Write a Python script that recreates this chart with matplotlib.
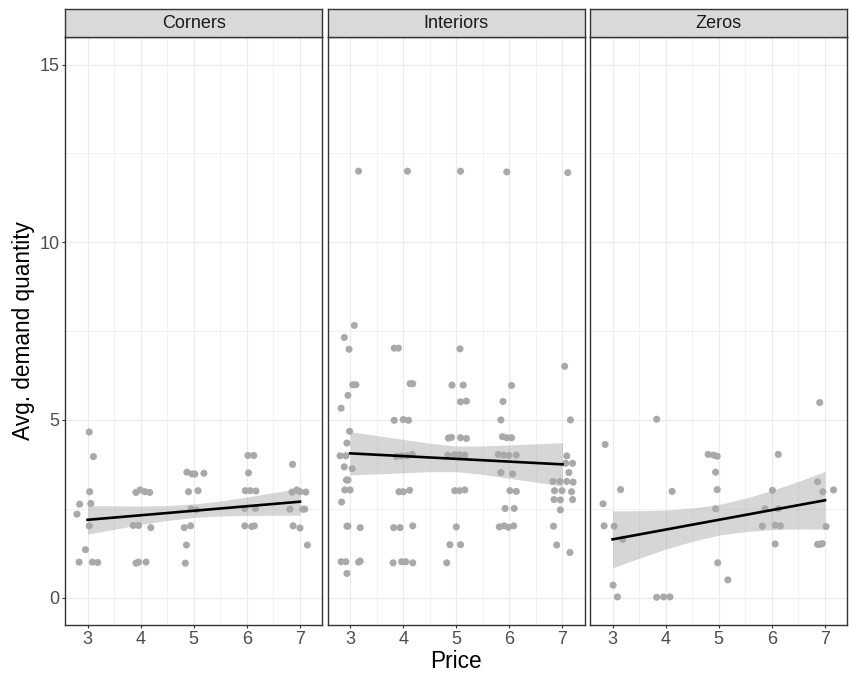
import matplotlib
matplotlib.use("Agg")
import matplotlib.pyplot as plt
import numpy as np

plt.rcParams["font.family"] = ["Liberation Sans", "DejaVu Sans"]

# ─────────────────────────────────────────
# DATA (jittered points)
# ─────────────────────────────────────────
facets = ["Corners", "Interiors", "Zeros"]

corners_price = [3.03, 3.11, 3.04, 2.85, 3.06, 2.80, 3.03, 2.96, 2.84, 3.09, 3.19,
                 3.91, 3.99, 4.08, 4.17, 3.86, 3.96, 4.19, 3.91, 3.96, 4.10,
                 4.87, 4.97, 5.02, 5.19, 4.90, 5.08, 4.95, 5.05, 4.82, 4.94, 4.86, 4.84,
                 6.02, 6.13, 6.03, 5.97, 6.06, 6.17, 5.96, 6.16, 5.96, 6.09, 6.14,
                 6.86, 6.85, 6.94, 7.00, 7.11, 6.81, 7.05, 7.09, 6.87, 7.00, 7.14]
corners_qty = [4.66, 3.97, 2.98, 2.63, 2.65, 2.35, 2.02, 1.35, 1.00, 1.00, 0.99,
               2.96, 3.03, 2.98, 2.96, 2.03, 2.03, 1.97, 0.97, 1.00, 1.00,
               3.53, 3.48, 3.48, 3.50, 2.98, 3.01, 2.50, 2.47, 1.97, 2.02, 1.48, 0.97,
               4.00, 4.00, 3.51, 3.01, 3.01, 3.00, 2.51, 2.51, 2.02, 2.00, 2.02,
               3.75, 2.97, 3.03, 2.98, 2.97, 2.49, 2.49, 2.49, 2.02, 1.96, 1.48]

interiors_price = [3.16, 3.08, 2.89, 2.98, 3.05, 3.11, 2.96, 2.83, 2.99, 2.94, 2.81, 2.92,
                   2.89, 3.04, 2.93, 2.96, 2.90, 3.00, 2.84, 2.94, 2.96, 3.19, 2.83, 2.92,
                   3.16, 3.19, 2.94,
                   4.08, 3.83, 3.91, 4.13, 4.18, 3.83, 4.00, 4.10, 3.87, 3.97, 4.07, 4.17,
                   3.92, 4.00, 4.12, 3.82, 3.94, 4.18, 3.81, 3.97, 4.05, 4.18,
                   5.08, 5.07, 4.92, 5.13, 5.08, 5.19, 4.85, 4.91, 5.08, 5.19, 4.84, 4.97,
                   5.06, 5.16, 4.97, 5.06, 5.16, 5.00, 4.88, 5.08, 4.82,
                   5.95, 6.04, 5.88, 5.84, 5.87, 5.95, 6.04, 5.79, 5.89, 5.99, 6.13, 5.84,
                   6.06, 6.01, 6.13, 5.92, 6.09, 5.81, 5.90, 5.98, 6.08,
                   7.10, 7.04, 7.15, 7.08, 7.06, 7.19, 7.12, 6.82, 6.95, 7.08, 7.20, 6.85,
                   6.99, 7.17, 6.84, 6.96, 7.19, 6.96, 6.83, 6.89, 7.14]
interiors_qty = [12.00, 7.66, 7.32, 6.99, 5.99, 5.99, 5.69, 5.33, 4.68, 4.35, 3.99, 3.99,
                 3.68, 3.63, 3.31, 3.31, 3.03, 3.03, 2.69, 2.01, 2.01, 1.97, 1.01, 1.01,
                 1.00, 1.03, 0.68,
                 12.00, 7.02, 7.02, 6.02, 6.02, 4.99, 5.01, 4.99, 3.97, 3.99, 3.99, 4.03,
                 2.98, 2.98, 3.02, 1.97, 1.97, 2.02, 0.98, 1.01, 1.01, 0.98,
                 12.00, 7.00, 5.98, 5.98, 5.51, 5.53, 4.49, 4.51, 4.50, 4.48, 4.01, 4.02,
                 4.02, 4.01, 3.01, 3.01, 3.03, 1.99, 1.49, 1.49, 0.98,
                 11.98, 5.97, 5.52, 5.00, 4.53, 4.50, 4.50, 4.03, 4.01, 4.00, 4.01, 3.52,
                 3.48, 3.01, 2.99, 2.51, 2.51, 1.99, 2.02, 1.98, 2.02,
                 11.96, 6.51, 5.00, 3.99, 3.78, 3.78, 3.52, 3.27, 3.27, 3.27, 3.25, 3.01,
                 3.01, 2.98, 2.76, 2.75, 2.76, 2.47, 2.01, 1.48, 1.27]

zeros_price = [2.86, 2.82, 2.84, 3.03, 3.15, 3.19, 3.01, 3.09,
               3.83, 4.12, 3.83, 3.96, 4.08,
               4.80, 4.90, 4.97, 4.94, 4.97, 4.94, 4.98, 5.17,
               6.12, 6.01, 5.87, 6.12, 5.82, 6.06, 6.16, 6.06,
               6.90, 6.86, 6.96, 7.16, 7.02, 6.86, 6.91, 6.95]
zeros_qty = [4.31, 2.64, 2.02, 2.01, 3.04, 1.64, 0.35, 0.02,
             5.02, 2.99, 0.01, 0.02, 0.02,
             4.03, 4.01, 3.98, 3.53, 3.04, 2.50, 0.98, 0.50,
             4.03, 3.02, 2.50, 2.50, 2.01, 2.04, 2.02, 1.51,
             5.49, 3.26, 2.98, 3.03, 2.00, 1.50, 1.50, 1.52]

prices = [corners_price, interiors_price, zeros_price]
quantities = [corners_qty, interiors_qty, zeros_qty]

# linear fit: value at price 3 and price 7
fit_price = [3, 7]
fit_corners = [2.19, 2.70]
fit_interiors = [4.06, 3.75]
fit_zeros = [1.64, 2.74]
fits = [fit_corners, fit_interiors, fit_zeros]

# half-width of the 95% band along the price axis
band_price = [3, 3.5, 4, 4.5, 5, 5.5, 6, 6.5, 7]
band_corners = [0.40, 0.33, 0.26, 0.21, 0.19, 0.21, 0.26, 0.32, 0.38]
band_interiors = [0.61, 0.54, 0.47, 0.40, 0.36, 0.40, 0.47, 0.54, 0.61]
band_zeros = [0.80, 0.67, 0.55, 0.47, 0.43, 0.47, 0.55, 0.67, 0.81]
bands = [band_corners, band_interiors, band_zeros]

x_ticks = [3, 4, 5, 6, 7]
y_ticks = [0, 5, 10, 15]

# ─────────────────────────────────────────
# FIGURE
# ─────────────────────────────────────────
W, H = 849, 677
fig = plt.figure(figsize=(W / 100, H / 100), dpi=100)

panel_left = [65.3, 327.8, 590.3]
panel_w = 257.0
panel_top, panel_bottom = 36.5, 625.0
strip_top = 8.7

border = "#333333"
grid_col = "#EBEBEB"

for i, name in enumerate(facets):
    l = panel_left[i] / W
    ax = fig.add_axes([l, 1 - panel_bottom / H, panel_w / W,
                       (panel_bottom - panel_top) / H])
    ax.set_xlim(2.58, 7.42)
    ax.set_ylim(-0.77, 15.79)

    ax.set_xticks(x_ticks)
    ax.set_xticks([3.5, 4.5, 5.5, 6.5], minor=True)
    ax.set_yticks(y_ticks)
    ax.set_yticks([2.5, 7.5, 12.5], minor=True)
    ax.grid(True, which="major", color=grid_col, lw=0.8)
    ax.grid(True, which="minor", color=grid_col, lw=0.45)
    ax.set_axisbelow(True)
    ax.tick_params(which="minor", length=0)
    ax.tick_params(which="major", length=2.3, width=0.8, color=border,
                   labelcolor="#4D4D4D", labelsize=13, pad=2)
    if i > 0:
        ax.tick_params(axis="y", which="major", left=False, labelleft=False)
    for sp in ax.spines.values():
        sp.set_color(border)
        sp.set_linewidth(1.0)

    # fitted line and its band
    line_at_band = np.interp(band_price, fit_price, fits[i])
    hw = np.asarray(bands[i])
    ax.fill_between(band_price, line_at_band - hw, line_at_band + hw,
                    color="#999999", alpha=0.4, lw=0, zorder=2)
    ax.scatter(prices[i], quantities[i], s=26, color="#A9A9A9",
               edgecolors="none", zorder=3)
    ax.plot(fit_price, fits[i], color="black", lw=1.9, zorder=4)

    # strip
    sax = fig.add_axes([l, 1 - panel_top / H, panel_w / W,
                        (panel_top - strip_top) / H])
    sax.set_facecolor("#D9D9D9")
    sax.set_xticks([])
    sax.set_yticks([])
    for sp in sax.spines.values():
        sp.set_color(border)
        sp.set_linewidth(1.0)
    sax.text(0.5, 0.48, name, ha="center", va="center", fontsize=13,
             color="#1A1A1A", transform=sax.transAxes)

fig.text((65.3 + 847.3) / 2 / W, 1 - 661 / H, "Price", ha="center",
         va="center", fontsize=16.3, color="black")
fig.text(24 / W, 1 - 331 / H, "Avg. demand quantity", ha="center",
         va="center", rotation=90, fontsize=16.3, color="black")

fig.savefig("out.png", dpi=100)
